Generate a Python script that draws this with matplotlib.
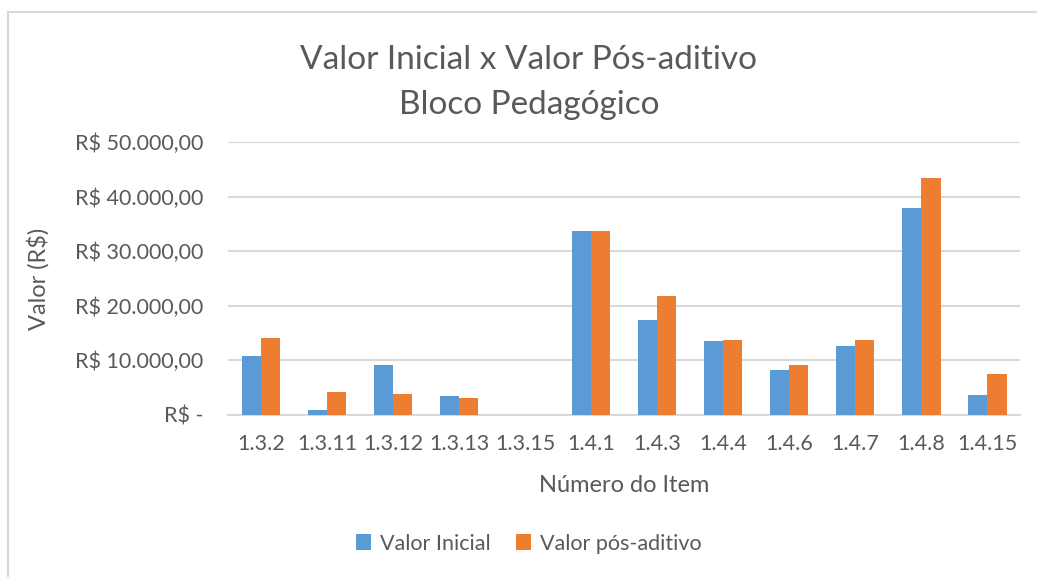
"""
Valor Inicial x Valor Pós-aditivo - Bloco Pedagógico
"""

import matplotlib
matplotlib.use("Agg")
import matplotlib.pyplot as plt
import numpy as np
from matplotlib.patches import Rectangle
from matplotlib.ticker import FuncFormatter

plt.rcParams["font.family"] = ["Lato", "DejaVu Sans"]

# data
itens = ["1.3.2", "1.3.11", "1.3.12", "1.3.13", "1.3.15", "1.4.1",
         "1.4.3", "1.4.4", "1.4.6", "1.4.7", "1.4.8", "1.4.15"]
valor_inicial = [10700, 800, 9050, 3420, 0, 33740,
                 17300, 13570, 8130, 12590, 37960, 3670]
valor_pos = [14000, 4160, 3850, 3000, 0, 33740,
             21820, 13750, 9050, 13750, 43400, 7460]

AZUL = "#5b9bd5"
LARANJA = "#ed7d31"
TEXTO = "#595959"
GRADE = "#d9d9d9"


def fmt_reais(v, pos):
    if v == 0:
        return "R$ -"
    s = f"{v:,.2f}".replace(",", "X").replace(".", ",").replace("X", ".")
    return "R$ " + s


def viz():
    fig = plt.figure(figsize=(10.37, 5.77), dpi=100)
    ax = fig.add_axes([0.22, 0.281, 0.764, 0.473])

    x = np.arange(len(itens))
    w = 0.29
    ax.bar(x - w / 2, valor_inicial, width=w, color=AZUL, label="Valor Inicial", zorder=3)
    ax.bar(x + w / 2, valor_pos, width=w, color=LARANJA, label="Valor pós-aditivo", zorder=3)

    ax.set_xlim(-0.5, len(itens) - 0.5)
    ax.set_ylim(0, 50000)
    ax.set_yticks(range(0, 50001, 10000))
    ax.yaxis.set_major_formatter(FuncFormatter(fmt_reais))
    ax.set_xticks(x)
    ax.set_xticklabels(itens)
    ax.grid(axis="y", color=GRADE, linewidth=1.5, zorder=0)
    for s in ["top", "right", "left"]:
        ax.spines[s].set_visible(False)
    ax.spines["bottom"].set_color(GRADE)
    ax.spines["bottom"].set_linewidth(1.5)
    ax.tick_params(length=0, labelsize=15.5, colors=TEXTO)
    ax.tick_params(axis="x", pad=14)
    ax.tick_params(axis="y", pad=18)

    ax.set_xlabel("Número do Item", fontsize=17, color=TEXTO, labelpad=15)
    ax.set_ylabel("Valor (R$)", fontsize=17, color=TEXTO, labelpad=18)

    fig.text(0.51, 0.896, "Valor Inicial x Valor Pós-aditivo", ha="center", va="center",
             fontsize=24, color=TEXTO)
    fig.text(0.51, 0.818, "Bloco Pedagógico", ha="center", va="center",
             fontsize=24, color=TEXTO)

    fig.legend(loc="center", bbox_to_anchor=(0.51, 0.058), ncol=2, frameon=False,
               fontsize=15.5, labelcolor=TEXTO, handlelength=0.7, handleheight=0.7,
               columnspacing=1.2, handletextpad=0.4)

    # chart border
    fig.add_artist(Rectangle((8 / 1037, -0.1), 1.2, 1.1 - 12 / 577,
                             transform=fig.transFigure, fill=False,
                             edgecolor=GRADE, linewidth=1.5))

    fig.savefig("out.png", dpi=100, facecolor="white")


if __name__ == "__main__":
    viz()
